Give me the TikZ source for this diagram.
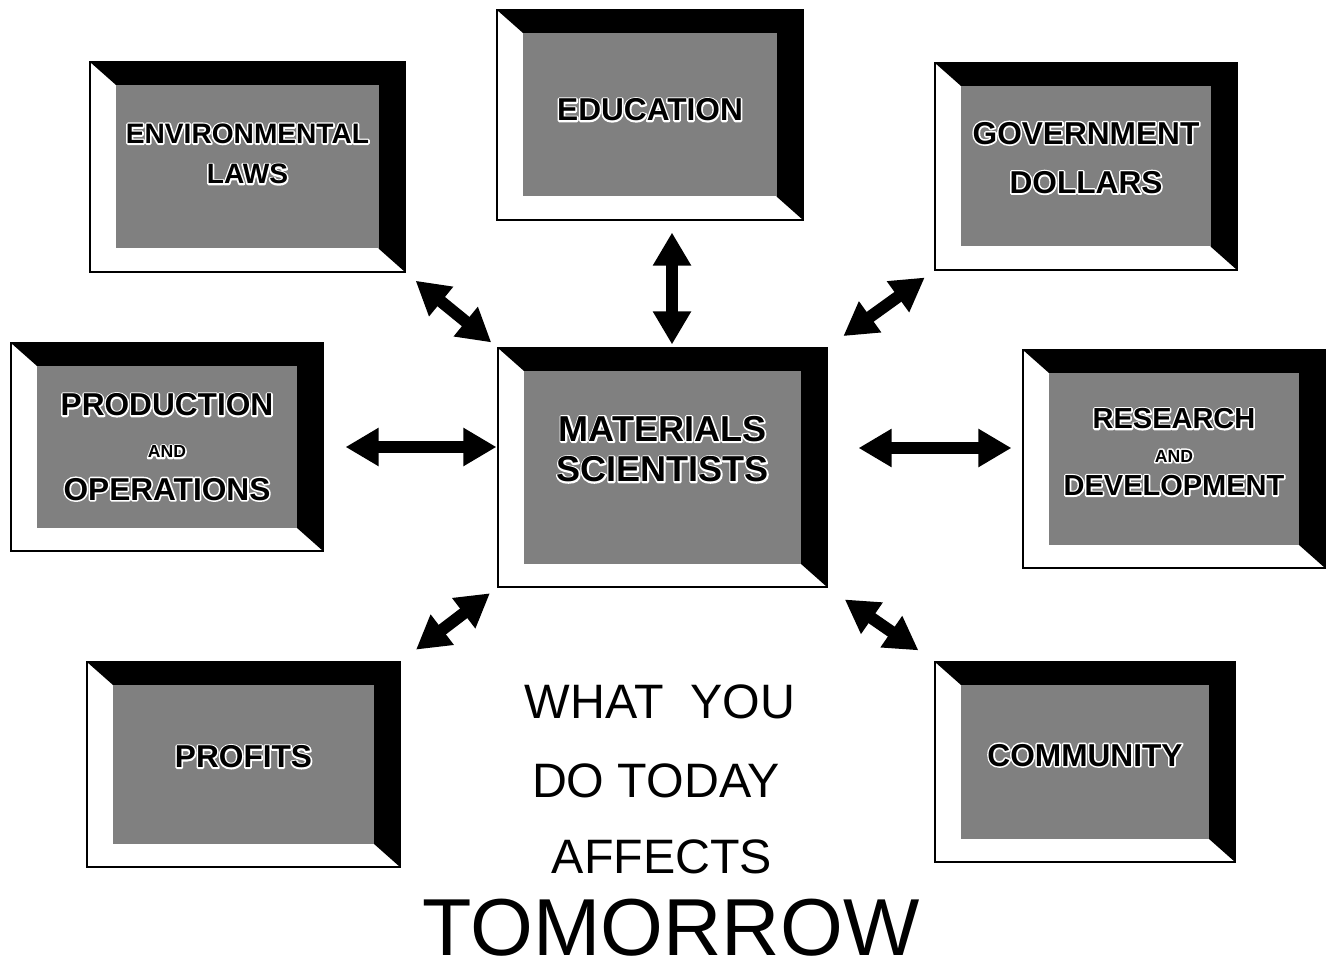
\documentclass[tikz,border=0pt]{standalone}
\usepackage{fontspec}
\setmainfont{Liberation Sans}
\usetikzlibrary{arrows.meta}
\definecolor{panelgray}{gray}{0.5}
% white outline round the black letters: a stroked copy under the filled one
\newcommand{\halo}[1]{\leavevmode\rlap{\special{pdf:literal direct 1 Tr 1 1 1 RG 1.8 w 1 j 1 J}#1\special{pdf:literal direct 0 Tr}}#1}
\newcommand{\andline}{{\fontsize{10}{12}\selectfont\halo{AND}}}
\tikzset{
  panel/.style={draw, line width=0.6pt, inner sep=0pt, align=center,
                font=\bfseries\fontsize{18}{24}\selectfont,
                execute at end node={\rule[-#1]{0pt}{0pt}},
                path picture={
                  \fill[black] (path picture bounding box.north west) -- (path picture bounding box.north east)
                    -- (path picture bounding box.south east) -- ([shift={(-0.53,0.47)}]path picture bounding box.south east)
                    -- ([shift={(-0.53,-0.46)}]path picture bounding box.north east)
                    -- ([shift={(0.52,-0.46)}]path picture bounding box.north west) -- cycle;
                  \fill[panelgray] ([shift={(0.52,-0.46)}]path picture bounding box.north west)
                    rectangle ([shift={(-0.53,0.47)}]path picture bounding box.south east);
                }},
  panel/.default=0pt,
  dbl/.style={{Triangle[length=6.6mm,width=7.2mm]}-{Triangle[length=6.6mm,width=7.2mm]}, line width=2.4mm},
  slogan/.style={anchor=base, font=\fontsize{27.5}{33}\selectfont}
}
\begin{document}
\begin{tikzpicture}
\useasboundingbox (0,0) rectangle (26.72,-19.46);
% panels
\node[panel=21pt, minimum width=6.58cm, minimum height=4.78cm, font=\bfseries\fontsize{20.5}{23}\selectfont] (mat) at (13.25,-9.35) {\halo{MATERIALS}\\\halo{SCIENTISTS}};
\node[panel=15pt, minimum width=6.3cm, minimum height=4.2cm, font=\bfseries\fontsize{16}{23}\selectfont] (env) at (4.95,-3.34) {\halo{ENVIRONMENTAL}\\\halo{LAWS}};
\node[panel=6pt, minimum width=6.12cm, minimum height=4.2cm] (edu) at (13.0,-2.3) {\halo{EDUCATION}};
\node[panel=10pt, minimum width=6.04cm, minimum height=4.14cm, font=\bfseries\fontsize{18}{28}\selectfont] (gov) at (21.72,-3.33) {\halo{GOVERNMENT}\\\halo{DOLLARS}};
\node[panel, minimum width=6.24cm, minimum height=4.16cm] (prod) at (3.34,-8.94) {\halo{PRODUCTION}\\\andline\\\halo{OPERATIONS}};
\node[panel=8pt, minimum width=6.04cm, minimum height=4.36cm, font=\bfseries\fontsize{16.5}{19}\selectfont] (res) at (23.48,-9.18) {\halo{RESEARCH}\\\andline\\\halo{DEVELOPMENT}};
\node[panel=9pt, minimum width=6.26cm, minimum height=4.1cm] (prof) at (4.87,-15.29) {\halo{PROFITS}};
\node[panel=8pt, minimum width=6.0cm, minimum height=4.0cm] (com) at (21.7,-15.24) {\halo{COMMUNITY}};
% arrows to the centre
\draw[dbl, shorten <=0.26cm, shorten >=0.16cm] (env.south east) -- (mat.north west);
\draw[dbl, shorten <=0.24cm, shorten >=0.06cm] ([xshift=0.19cm]mat.north |- edu.south) -- ([xshift=0.19cm]mat.north);
\draw[dbl, shorten <=0.24cm, shorten >=0.39cm] (gov.south west) -- (mat.north east);
\draw[dbl, shorten <=0.44cm, shorten >=0.02cm] (prod.east) -- (prod.east -| mat.west);
\draw[dbl, shorten <=0.62cm, shorten >=0.22cm] ([yshift=0.22cm]res.west -| mat.east) -- ([yshift=0.22cm]res.west);
\draw[dbl, shorten <=0.39cm, shorten >=0.19cm] (prof.north east) -- (mat.south west);
\draw[dbl, shorten <=0.42cm, shorten >=0.39cm] (mat.south east) -- (com.north west);
% slogan
\node[slogan] (what) at (13.2,-14.36) {WHAT\ \ YOU};
\node[slogan] (today) at (13.12,-15.94) {DO TODAY};
\node[slogan] (affects) at (13.24,-17.46) {AFFECTS};
\node[slogan, font=\fontsize{46}{50}\selectfont] (tomorrow) at (13.42,-19.1) {TOMORROW};
\end{tikzpicture}
\end{document}
